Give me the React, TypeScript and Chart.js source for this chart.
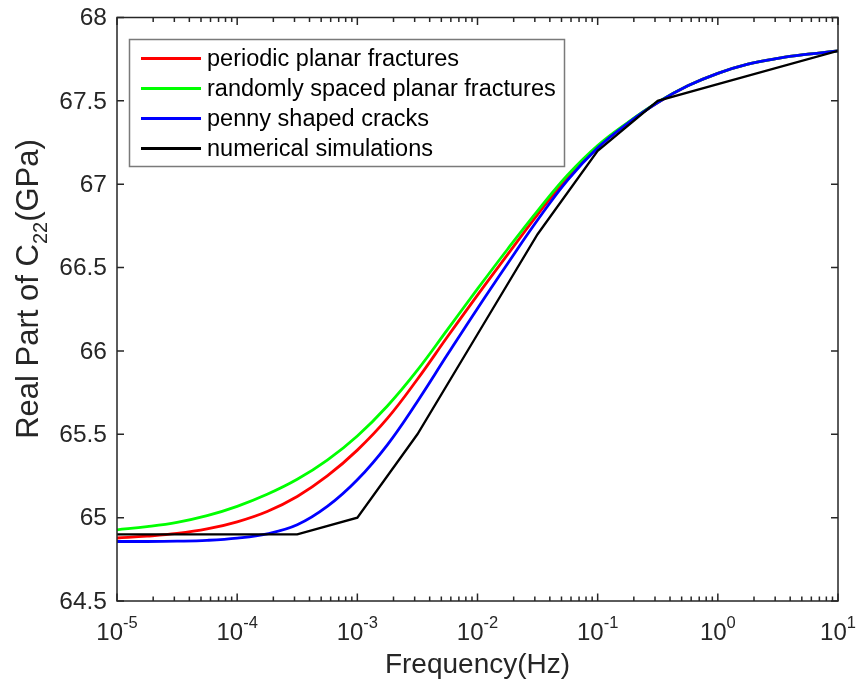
import React, { useEffect, useRef } from "react";
import { Chart, registerables } from "chart.js";

Chart.register(...registerables);

// ---------- data ----------
const freqSmooth = [
  1e-5, 1.778e-5, 3.162e-5, 5.623e-5, 1e-4, 1.778e-4, 3.162e-4, 5.623e-4,
  1e-3, 1.778e-3, 3.162e-3, 5.623e-3, 1e-2, 1.778e-2, 3.162e-2, 5.623e-2,
  0.1, 0.1778, 0.3162, 0.5623, 1, 1.778, 3.162, 5.623, 10,
];
const periodicPlanar = [
  64.878, 64.889, 64.905, 64.932, 64.975, 65.037, 65.127, 65.25,
  65.405, 65.595, 65.83, 66.085, 66.335, 66.578, 66.818, 67.04,
  67.225, 67.367, 67.49, 67.59, 67.665, 67.72, 67.755, 67.78, 67.8,
];
const randomPlanar = [
  64.927, 64.946, 64.972, 65.012, 65.068, 65.14, 65.23, 65.345,
  65.49, 65.67, 65.885, 66.128, 66.372, 66.61, 66.84, 67.055,
  67.232, 67.37, 67.492, 67.59, 67.665, 67.72, 67.755, 67.78, 67.8,
];
const pennyCracks = [
  64.857, 64.857, 64.859, 64.864, 64.877, 64.903, 64.957, 65.067,
  65.227, 65.437, 65.697, 65.978, 66.255, 66.523, 66.785, 67.025,
  67.218, 67.365, 67.49, 67.59, 67.665, 67.72, 67.755, 67.78, 67.8,
];
const freqNumerical = [1e-5, 1e-4, 3.162e-4, 1e-3, 3.162e-3, 1e-2, 3.162e-2, 0.1, 0.3162, 1, 10];
const numerical = [64.9, 64.9, 64.9, 65.0, 65.5, 66.1, 66.7, 67.2, 67.5, 67.6, 67.8];

const seriesLabels = [
  "periodic planar fractures",
  "randomly spaced planar fractures",
  "penny shaped cracks",
  "numerical simulations",
];
const seriesColors = ["#ff0000", "#00ff00", "#0000ff", "#000000"];

const yTicks = [64.5, 65, 65.5, 66, 66.5, 67, 67.5, 68];
const yTickLabels = ["64.5", "65", "65.5", "66", "66.5", "67", "67.5", "68"];
const xDecades = [-5, -4, -3, -2, -1, 0, 1];
const xTickExpLabels = ["-5", "-4", "-3", "-2", "-1", "0", "1"];

const xTitle = "Frequency(Hz)";
const yTitleMain = "Real Part of C";
const yTitleSub = "22";
const yTitleEnd = "(GPa)";

const FONT = '"Liberation Sans", Arial, Helvetica, sans-serif';
const TEXT = "#262626";

const pairs = (xs: number[], ys: number[]) => xs.map((x, i) => ({ x, y: ys[i] }));

const matlabPlugin = {
  id: "matlabAxes",
  afterDatasetsDraw(chart: any) {
    const { ctx, chartArea, scales } = chart;
    const { left, right, top, bottom } = chartArea;
    const xs = scales.x;
    const ys = scales.y;
    ctx.save();
    ctx.strokeStyle = TEXT;
    ctx.lineWidth = 1.5;
    ctx.strokeRect(left, top, right - left, bottom - top);

    // y ticks + labels
    ctx.font = `24.5px ${FONT}`;
    ctx.fillStyle = TEXT;
    ctx.textAlign = "right";
    ctx.textBaseline = "middle";
    yTicks.forEach((v, i) => {
      const py = ys.getPixelForValue(v);
      ctx.beginPath();
      ctx.moveTo(left, py);
      ctx.lineTo(left + 7, py);
      ctx.moveTo(right, py);
      ctx.lineTo(right - 7, py);
      ctx.stroke();
      ctx.fillText(yTickLabels[i], left - 10, py + 1);
    });

    // x ticks (major + minor) and labels
    xDecades.forEach((e, di) => {
      for (let m = 1; m <= 9; m++) {
        const v = m * Math.pow(10, e);
        if (v > 10.0001) break;
        const px = xs.getPixelForValue(v);
        const len = m === 1 ? 7.5 : 4.5;
        ctx.beginPath();
        ctx.moveTo(px, bottom);
        ctx.lineTo(px, bottom - len);
        ctx.moveTo(px, top);
        ctx.lineTo(px, top + len);
        ctx.stroke();
      }
      const px = xs.getPixelForValue(Math.pow(10, e));
      ctx.textAlign = "left";
      ctx.textBaseline = "alphabetic";
      ctx.font = `24px ${FONT}`;
      const wBase = ctx.measureText("10").width;
      ctx.font = `16.5px ${FONT}`;
      const wSup = ctx.measureText(xTickExpLabels[di]).width;
      const start = px - (wBase + wSup) / 2;
      ctx.font = `24px ${FONT}`;
      ctx.fillText("10", start, 639.5);
      ctx.font = `16.5px ${FONT}`;
      ctx.fillText(xTickExpLabels[di], start + wBase, 628);
    });

    // x title
    ctx.font = `28px ${FONT}`;
    ctx.textAlign = "center";
    ctx.textBaseline = "alphabetic";
    ctx.fillText(xTitle, (left + right) / 2, 673);

    // y title (rotated, with subscript)
    ctx.save();
    ctx.translate(37.5, 289);
    ctx.rotate(-Math.PI / 2);
    ctx.textAlign = "left";
    ctx.font = `31px ${FONT}`;
    const w1 = ctx.measureText(yTitleMain).width;
    const w3 = ctx.measureText(yTitleEnd).width;
    ctx.font = `20px ${FONT}`;
    const w2 = ctx.measureText(yTitleSub).width;
    let sx = -(w1 + w2 + w3) / 2;
    ctx.font = `31px ${FONT}`;
    ctx.fillText(yTitleMain, sx, 0);
    sx += w1;
    ctx.font = `20px ${FONT}`;
    ctx.fillText(yTitleSub, sx, 9.5);
    sx += w2;
    ctx.font = `31px ${FONT}`;
    ctx.fillText(yTitleEnd, sx, 0);
    ctx.restore();

    // legend
    const lx = 129.5, ly = 39.5, lw = 435, lh = 127;
    ctx.fillStyle = "#ffffff";
    ctx.fillRect(lx, ly, lw, lh);
    ctx.strokeStyle = "#7a7a7a";
    ctx.lineWidth = 1.5;
    ctx.strokeRect(lx, ly, lw, lh);
    chart.data.datasets.forEach((ds: any, i: number) => {
      const ry = 58.5 + i * 30;
      ctx.strokeStyle = ds.borderColor;
      ctx.lineWidth = 2.8;
      ctx.beginPath();
      ctx.moveTo(141, ry);
      ctx.lineTo(201, ry);
      ctx.stroke();
      ctx.fillStyle = "#000000";
      ctx.font = `23.5px ${FONT}`;
      ctx.textAlign = "left";
      ctx.textBaseline = "middle";
      ctx.fillText(ds.label, 207, ry + 1);
    });
    ctx.restore();
  },
};

export default function App() {
  const ref = useRef<HTMLCanvasElement | null>(null);
  useEffect(() => {
    document.body.style.margin = "0";
    const canvas = ref.current;
    if (!canvas) return;
    const smoothSets = [periodicPlanar, randomPlanar, pennyCracks].map((vals, i) => ({
      label: seriesLabels[i],
      data: pairs(freqSmooth, vals),
      borderColor: seriesColors[i],
      backgroundColor: seriesColors[i],
      borderWidth: 2.8,
      pointRadius: 0,
      tension: 0.4,
      order: 4 - i,
      fill: false,
    }));
    const chart = new Chart(canvas, {
      type: "line",
      data: {
        datasets: [
          ...smoothSets,
          {
            label: seriesLabels[3],
            data: pairs(freqNumerical, numerical),
            borderColor: seriesColors[3],
            backgroundColor: seriesColors[3],
            borderWidth: 2.3,
            pointRadius: 0,
            tension: 0,
            order: 1,
            fill: false,
          },
        ],
      },
      options: {
        animation: false,
        responsive: false,
        maintainAspectRatio: false,
        layout: { padding: { left: 117, right: 19, top: 17.5, bottom: 85 } },
        plugins: { legend: { display: false }, tooltip: { enabled: false } },
        scales: {
          x: { type: "logarithmic", min: 1e-5, max: 10, display: false },
          y: { type: "linear", min: 64.5, max: 68, display: false },
        },
      },
      plugins: [matlabPlugin],
    });
    return () => chart.destroy();
  }, []);
  return (
    <div style={{ position: "absolute", left: 0, top: 0, width: 857, height: 686, background: "#fff" }}>
      <canvas ref={ref} width={857} height={686} style={{ width: 857, height: 686 }} />
    </div>
  );
}
